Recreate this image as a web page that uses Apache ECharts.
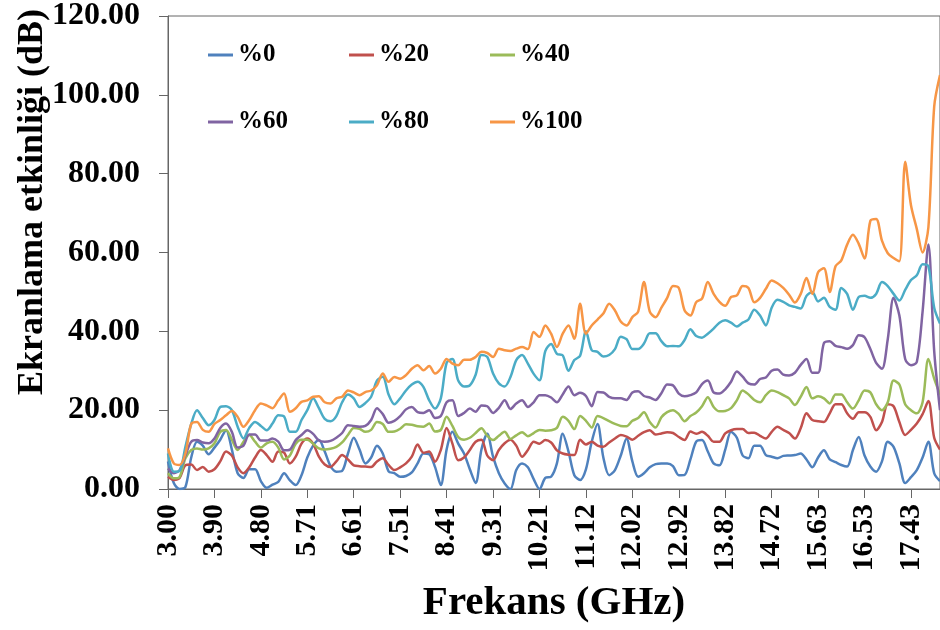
<!DOCTYPE html>
<html>
<head>
<meta charset="utf-8">
<script src="https://cdn.jsdelivr.net/npm/echarts@6/dist/echarts.min.js"></script>
<style>
html,body{margin:0;padding:0;background:#fff;}
#chart{width:940px;height:630px;}
</style>
</head>
<body>
<div id="chart"></div>
<script>
// Tick labels on the frequency axis (GHz), one every 8 samples
const tickLabels = ['3.00','3.90','4.80','5.71','6.61','7.51','8.41','9.31','10.21','11.12','12.02','12.92','13.82','14.72','15.63','16.53','17.43'];
const seriesNames = ['%0','%20','%40','%60','%80','%100'];
const seriesColors = ['#4F81BD','#C0504D','#9BBB59','#8064A2','#4BACC6','#F79646'];

// Shielding effectiveness (dB), samples every 1/8 of a tick step
const s0 = [7,1.5,0,0.5,8,12,11,8.8,10.5,12.5,
15,10,4,2.8,5,5,2,0.3,1.1,1.8,
4,2.2,1,3.5,8,11,12.4,9.5,5.8,4.4,
4.6,9,13,10,6.5,8,11,9,4.5,4,
3.1,3.3,4.2,6.5,9,8.8,5.6,1,10,14.5,
11.5,9,5,1.5,10,14,8.2,4,1.4,0,
4.8,6.5,5.5,2.5,0,2.8,3.1,6.5,14,9.5,
3.5,2.3,5,12,16.5,8,3.5,4.8,8.5,12.8,
7,3.1,4,5.5,6.3,6.5,6.5,5.8,3.5,3.6,
7.5,12,12.4,9.5,6.5,6,10,14.5,13,8.5,
7.8,11,11,8.6,8.2,7.8,8.4,8.5,8.6,9,
7.5,5.5,8,9.8,7.5,6.8,6.1,5.7,9.9,13.2,
8.5,5.7,4.4,7,12,10.7,6.5,1.5,3,4.8,
8,12,4,2];
const s20 = [3.1,2.3,2.8,6,6.2,4.8,5.6,4.4,5,7,
9.5,8.5,5.5,4,5.5,8,9.9,8.6,6.9,9.5,
9.2,6.5,8.2,11.5,12.8,11.5,8.2,6.2,5.6,7,
8.6,7.5,6,5.8,5.7,5.6,7,7.8,6.1,4.8,
5.5,6.5,8.2,11.3,9.2,9.5,6.9,9.9,15.5,11.5,
7.3,8,9.9,12,12.5,8.5,7.3,9.9,11.6,12.5,
11,8.2,9.9,12,11.5,12.4,11.8,9.8,9,8.7,
8.6,12.5,11.3,12,11,10.7,11.8,12.8,13.7,13.3,
12.5,13.5,14.4,14.9,13.8,14.1,14.4,14.2,13.2,12.4,
14.6,14,14.5,13.5,12,12,14.1,14.9,15.2,15.2,
14.2,14.3,13.5,12.8,14.5,15.8,15,14.2,12.8,15.4,
19.2,17.5,17.2,17,19.2,21.5,21.5,19.2,17.8,19.5,
19.5,18.3,14.9,17,21.5,21,17,13.7,15,16.6,
19,22.3,13,10];
const s40 = [4,2.7,3.1,7.8,9.9,10.3,10,10.3,11.6,14.5,
15,12.5,9.9,12,13.7,12,10.5,11.6,12,10.5,
7.5,8.5,11.5,12.5,12.5,11.5,10.3,10,10.2,10.7,
11.8,13.7,15.5,15.3,14.5,15,17,16.5,14.5,14.6,
15.3,16.4,16.3,15.9,15.8,16.6,14.6,15,18.3,16,
13.2,12.5,13,14.2,15.4,13.5,12.4,13.5,14.5,12.7,
13.6,14.4,13.4,14.2,15,14.8,14.9,15.5,18.3,17.3,
15.2,18.5,17.3,15.6,18.5,18,17.2,16.5,16,15.9,
17.3,18,19.5,17,15.6,18.2,19.5,20,19,17.2,
18.5,19.4,21,23.3,20.8,19.7,19.8,20.5,22.5,25,
24,22.6,22,23.8,25,24.6,23.8,23,21.3,23.4,
25.9,23,23.5,23,21.7,24,24,22,20.4,22.5,
25,24.5,21.5,20,22,27.5,26.5,21.5,20,19.2,
22,33,28,24];
const s60 = [5.2,4,4.8,8.5,12,12.4,11.8,11.6,12.8,15.5,
16.6,14.5,10.5,11,13.8,13.8,12.3,12.3,12.8,12,
9.8,10,12.4,13.7,14.9,14,12.3,12,12.2,13,
14.2,16.2,16,15.8,16,17.5,20.5,19,16.8,17.3,
18.5,20.2,20.8,19.5,19.3,20,18,18.5,22,22.5,
18.5,19.3,20.4,19.6,21.2,21,19.3,20.6,22.5,20.3,
21.7,22.5,20.8,22,23.8,23.8,23.2,22,24,26,
23.8,24.4,23.6,21,24.6,24.5,23.4,23,23,22.6,
24.5,24.8,23.6,23.2,22.6,24.3,26.5,26.3,24.2,23.5,
23.8,24.5,26.6,27.5,24.5,24.2,25.3,27.2,29.8,28.5,
26.8,26.5,27.9,28.3,30,30.3,29,28.8,29.5,31.5,
33,29.5,29.5,37,37.5,36.3,36,35.6,36.5,39,
38.5,35.5,32,30.5,38,48.5,44,33,31.4,32.2,
45,62,35,20];
const s80 = [9,4.4,4.6,10.7,16.5,20,18,16.2,17.5,20.8,
21,20,15.8,12.8,15.5,17,16,14.9,16.6,18.7,
18.4,14.5,14.5,17.5,20,23,20.5,17.8,17.2,18.5,
22,24,23,20.8,21.8,23.4,27.5,28.5,24,21.5,
23,25,26.5,27.2,25.9,22.5,20.4,23,32,33,
27.5,26,26.3,29,34,33.5,29.3,26.8,26,28.4,
32.7,34,31.8,29.2,27.6,35,36.8,34.3,33.9,30,
32.7,33.8,40,35.2,34.8,33.6,34,35.5,38.6,38,
35.5,35.5,36.9,39.5,39.5,37.5,36.2,36.3,36.2,37.8,
40.5,38.8,38.4,39.4,40.7,42.2,42.8,42.2,41.2,42.2,
43,45.5,44,41.5,46,48,47.5,46.6,46.2,45.8,
49,50,47.6,48.5,46.2,45.5,51,49.5,45.5,48.7,
49,48.5,49.5,52.5,51.5,49.5,47.8,50.5,53,54.2,
57,56.5,46,42];
const s100 = [10.3,6.5,6.1,9,16.5,17,15,14.5,16.5,17.5,
18.7,19.8,18.3,15.8,17.5,20,21.7,21.2,20.5,22.5,
24.2,19.6,20.5,22.1,22.5,23.4,23.5,22,21.7,23,
23.4,25,24.5,23.8,24.6,25,26.3,29.3,27.2,28.4,
28,28.9,30.5,31.4,30.1,31.2,29.3,30.5,33,31.8,
31.4,32.8,32.8,33.5,34.8,34.5,33.5,35.6,35.2,35,
35.6,36,35.5,39.8,38.6,41.5,39.4,36,39.4,41.5,
38.1,47,39.4,41.5,43,44.5,47,45.3,42.5,41.5,
43.6,45,52.5,45,43.6,46,48.5,51.5,51,45.3,
44,47.4,48.3,52.5,49.5,47.5,46.5,48.7,49.1,51.5,
51,47.4,48.5,50.8,52.9,52.2,51,49.3,47.3,49.5,
53.5,49.5,55,56,50,56.5,58,62,64.5,62.2,
58.5,68,68.5,63,59.8,58.6,57.8,83,72,66,
60,66.4,97,105];

const seriesData = [s0, s20, s40, s60, s80, s100];
const perTick = 8;
const tickStepGHz = 0.9018;
const categories = s0.map((_, i) => (3 + i * tickStepGHz / perTick).toFixed(3));

const serif = '"Liberation Serif", "Times New Roman", serif';
const axisColor = '#666666';

const chart = echarts.init(document.getElementById('chart'), null, {renderer: 'canvas'});
const legendText = {fontFamily: serif, fontWeight: 'bold', fontSize: 25, color: '#000', width: 100, lineHeight: 30};
const legendBase = {icon: 'rect', itemWidth: 25, itemHeight: 3, itemGap: 11, padding: 0, textStyle: legendText};
chart.setOption({
  animation: false,
  backgroundColor: '#ffffff',
  color: seriesColors,
  grid: {left: 168, top: 15, width: 777, bottom: 141, show: true, borderColor: axisColor, borderWidth: 1, containLabel: false},
  legend: [
    Object.assign({data: seriesNames.slice(0, 3), left: 208, top: 40}, legendBase),
    Object.assign({data: seriesNames.slice(3), left: 208, top: 107}, legendBase)
  ],
  xAxis: {
    type: 'category',
    data: categories,
    boundaryGap: false,
    axisLine: {lineStyle: {color: axisColor, width: 1}},
    axisTick: {show: true, interval: perTick - 1, length: 9, lineStyle: {color: axisColor}},
    axisLabel: {
      interval: perTick - 1, rotate: 90, margin: 15,
      fontFamily: serif, fontWeight: 'bold', fontSize: 30, color: '#000',
      formatter: (v, idx) => tickLabels[idx / perTick]
    },
    splitLine: {show: false},
    name: 'Frekans (GHz)', nameLocation: 'middle', nameGap: 94,
    nameTextStyle: {fontFamily: serif, fontWeight: 'bold', fontSize: 41, color: '#000'}
  },
  yAxis: {
    type: 'value', min: 0, max: 120, interval: 20,
    axisLine: {show: true, lineStyle: {color: axisColor, width: 1}},
    axisTick: {show: true, length: 9, lineStyle: {color: axisColor}},
    axisLabel: {margin: 28, fontFamily: serif, fontWeight: 'bold', fontSize: 32, color: '#000',
      formatter: v => v.toFixed(2)},
    splitLine: {show: false}
  },
  graphic: [{
    type: 'text', x: 33, y: 202, rotation: Math.PI / 2,
    style: {text: 'Ekranlama etkinliği (dB)', font: 'bold 36px ' + serif, fill: '#000',
      textAlign: 'center', textVerticalAlign: 'middle', align: 'center', verticalAlign: 'middle'}
  }],
  series: seriesNames.map((name, k) => ({
    name: name, type: 'line', data: seriesData[k], symbol: 'none', showSymbol: false,
    smooth: 0.3, clip: true,
    lineStyle: {width: 2.5, color: seriesColors[k]},
    itemStyle: {color: seriesColors[k]}
  }))
});
</script>
</body>
</html>
